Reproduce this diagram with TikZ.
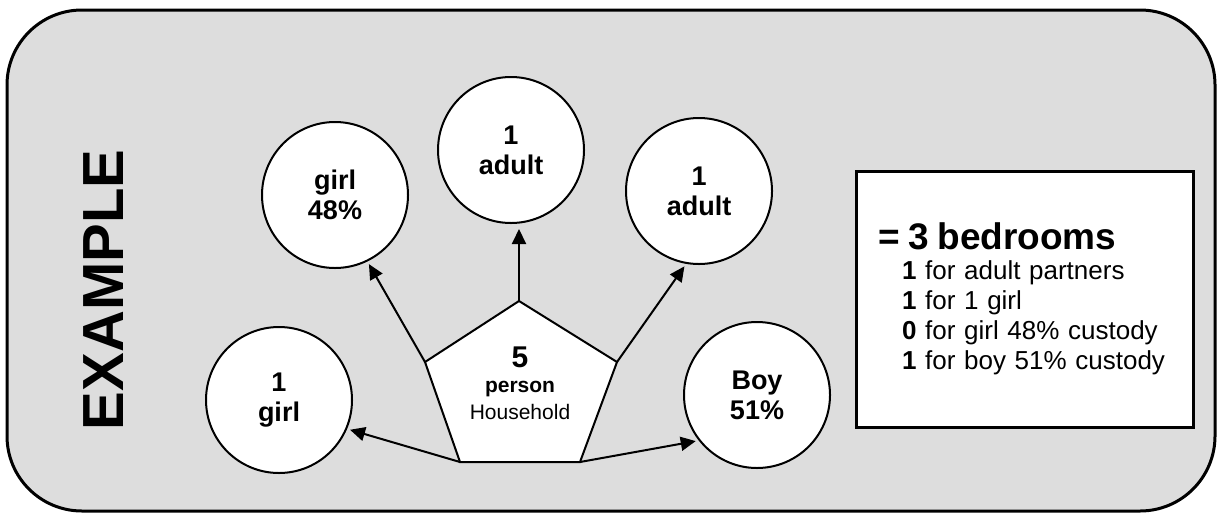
\documentclass[tikz,border=0pt]{standalone}
\usepackage{fontspec}
\setmainfont{Liberation Sans}
\usetikzlibrary{positioning}
\usetikzlibrary{arrows.meta}
\definecolor{panelgray}{HTML}{DDDDDD}

\begin{document}
\begin{tikzpicture}[x=1pt, y=-1pt,
                          >={Triangle[length=15pt, width=14pt]},
                          panel/.style={draw, fill=panelgray, line width=3pt, rounded corners=75pt},
                          roundnode/.style={circle, draw, fill=white, line width=2pt, minimum size=146pt, inner sep=0pt, align=center, font=\fontsize{27}{30}\selectfont\bfseries},
                          pentaline/.style={draw, fill=white, line width=2pt, line join=miter},
                          squarednode/.style={rectangle, draw, fill=white, line width=3pt, minimum width=337pt, minimum height=256pt, inner xsep=22pt, text width=293pt, align=left, font=\fontsize{26}{30}\selectfont},
                          arrowline/.style={->, line width=2pt, shorten >=3pt},
                      ]
                      \useasboundingbox (0,0) rectangle (1222,520);
                      \path[panel] (7,10) rectangle (1215,511);

                      % Nodes
                      \node[rotate=90, font=\fontsize{58}{60}\selectfont\bfseries] (title) at (103.5,290) {EXAMPLE};

                      \node[roundnode]        (girl_48)     at (335,195)      {girl\\48\%};
                      \node[roundnode]        (adult_1)     at (511,150)      {1\\adult};
                      \node[roundnode]        (adult_2)     at (699,191)      {1\\adult};
                      \node[roundnode]        (girl_1)      at (279,400)      {1\\girl};
                      \node[roundnode]        (boy_51)      at (757,395)      {Boy\\51\%};

                      \coordinate (p_top) at (519,301);
                      \coordinate (p_ur)  at (617,362);
                      \coordinate (p_br)  at (580,462);
                      \coordinate (p_bl)  at (460,462);
                      \coordinate (p_ul)  at (425,362);
                      \path[pentaline] (p_top) -- (p_ur) -- (p_br) -- (p_bl) -- (p_ul) -- cycle;
                      \node[align=center, font=\fontsize{21}{25}\selectfont] (household) at (520,383)
                          {{\fontsize{30}{30}\selectfont\bfseries 5}\\
                           {\bfseries person}\\[2pt]
                           Household};

                      \node[squarednode]      (rooms)       at (1024.5,299)
                          {{\fontsize{37}{38}\selectfont\bfseries = 3 bedrooms}\\
                           \hspace*{24pt}\textbf{1} for adult partners\\
                           \hspace*{24pt}\textbf{1} for 1 girl\\
                           \hspace*{24pt}\textbf{0} for girl 48\% custody\\
                           \hspace*{24pt}\textbf{1} for boy 51\% custody};

                      %Lines
                      \draw[arrowline] (p_ul) -- (girl_48.296);
                      \draw[arrowline, shorten >=5pt] (p_top) -- (p_top |- adult_1.south);
                      \draw[arrowline] (p_ur) -- (adult_2.260);
                      \draw[arrowline] (p_bl) -- (girl_1.337);
                      \draw[arrowline] (p_br) -- (boy_51.218);
                  \end{tikzpicture}
\end{document}
